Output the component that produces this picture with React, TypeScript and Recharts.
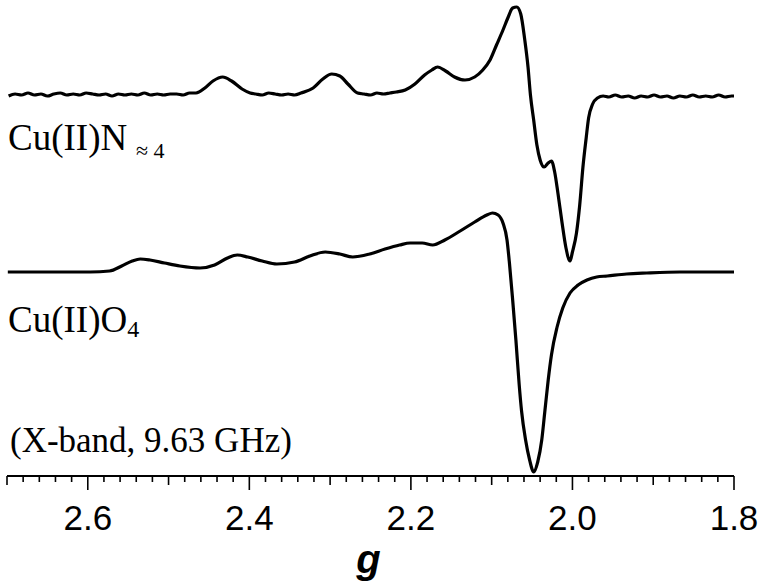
import { LineChart, Line, XAxis, YAxis } from 'recharts';

// g-values and signal heights (arbitrary units, offset so traces stack)
const gTicks = [2.6, 2.4, 2.2, 2.0, 1.8];

const nitrogenG = [
  2.698, 2.69, 2.682, 2.674, 2.666, 2.658, 2.65, 2.642, 2.634, 2.626, 2.618, 2.61, 2.602, 2.594,
  2.586, 2.578, 2.57, 2.562, 2.554, 2.546, 2.538, 2.53, 2.522, 2.514, 2.506, 2.498, 2.49, 2.482,
  2.474, 2.466, 2.455, 2.445, 2.433, 2.422, 2.409, 2.399, 2.392, 2.384, 2.376, 2.368, 2.36, 2.352,
  2.344, 2.336, 2.321, 2.309, 2.298, 2.288, 2.278, 2.266, 2.258, 2.25, 2.242, 2.234, 2.226, 2.218,
  2.207, 2.195, 2.183, 2.174, 2.167, 2.157, 2.146, 2.133, 2.121, 2.111, 2.102, 2.094, 2.086, 2.08,
  2.074, 2.069, 2.064, 2.059, 2.055, 2.052, 2.048, 2.044, 2.04, 2.035, 2.03, 2.026, 2.022, 2.018,
  2.013, 2.008, 2.003, 2.0, 1.995, 1.991, 1.987, 1.983, 1.98, 1.975, 1.969, 1.962, 1.955, 1.947,
  1.939, 1.931, 1.923, 1.915, 1.907, 1.899, 1.891, 1.883, 1.875, 1.867, 1.859, 1.851, 1.843, 1.835,
  1.827, 1.819, 1.811, 1.803, 1.8,
];
const nitrogenSignal = [
  380, 382, 381, 383, 381, 382, 380, 382, 383, 381, 382, 381, 383, 382,
  381, 382, 380, 382, 381, 382, 381, 383, 381, 382, 381, 382, 382, 381,
  383, 383, 388, 395, 399, 395, 387, 383, 382, 381, 383, 382, 381, 382,
  381, 383, 388, 397, 402, 400, 392, 383, 382, 381, 383, 382, 383, 384,
  386, 392, 401, 406, 409, 405, 399, 396, 399, 406, 416, 431, 446, 458,
  468, 469, 462, 436, 409, 381, 356, 331, 316, 309, 313, 315, 304, 283,
  254, 228, 215, 224, 243, 271, 309, 338, 358, 372, 378, 380, 379, 381,
  379, 380, 378, 380, 379, 381, 379, 380, 378, 380, 379, 381, 379, 380,
  379, 381, 379, 380, 380,
];

const oxygenG = [
  2.699, 2.672, 2.634, 2.597, 2.573, 2.558, 2.545, 2.535, 2.523, 2.505, 2.486, 2.461, 2.443, 2.427,
  2.415, 2.402, 2.384, 2.366, 2.344, 2.325, 2.306, 2.288, 2.272, 2.251, 2.232, 2.214, 2.201, 2.186,
  2.173, 2.158, 2.139, 2.121, 2.106, 2.099, 2.092, 2.086, 2.081, 2.078, 2.074, 2.07, 2.066, 2.063,
  2.058, 2.053, 2.048, 2.043, 2.038, 2.034, 2.03, 2.026, 2.019, 2.012, 2.003, 1.993, 1.982, 1.97,
  1.957, 1.933, 1.908, 1.867, 1.83, 1.8,
];
const oxygenSignal = [
  204, 204, 204, 204, 205, 210, 215, 217, 216, 213, 210, 208, 211, 218,
  221, 219, 215, 212, 214, 220, 224, 222, 219, 222, 227, 231, 233, 233,
  231, 236, 245, 254, 261, 263, 261, 253, 236, 213, 176, 136, 92, 65,
  36, 16, 4, 14, 36, 66, 96, 121, 149, 168, 183, 191, 196, 199,
  200, 202, 203, 204, 204, 204,
];

const nitrogenData = nitrogenG.map((g, i) => ({ g, v: nitrogenSignal[i] }));
const oxygenData = oxygenG.map((g, i) => ({ g, v: oxygenSignal[i] }));

// minor ticks every 0.02 between 2.7 and 1.8
const allTicks: number[] = [];
for (let i = 0; i <= 45; i++) allTicks.push(Math.round((2.7 - i * 0.02) * 100) / 100);

function GTick(props: any) {
  const { x, y, payload } = props;
  const k = Math.round(payload.value * 100);
  const major = gTicks.some((t) => Math.round(t * 100) === k);
  const mid = !major && k % 10 === 0;
  const len = major ? 14 : mid ? 9 : 6;
  return (
    <g>
      <line x1={x} y1={y} x2={x} y2={y + len} stroke="#000" strokeWidth={1.6} />
      {major && (
        <text
          x={x}
          y={y + 54}
          textAnchor="middle"
          fontSize={35}
          fontFamily="'Liberation Sans', Arial, sans-serif"
          fill="#000"
        >
          {payload.value.toFixed(1)}
        </text>
      )}
    </g>
  );
}

const serif = "'Liberation Serif', 'Times New Roman', serif";

export default function App() {
  return (
    <div style={{ position: 'absolute', left: 0, top: 0, width: 762, height: 587, background: '#fff' }}>
      <LineChart width={762} height={587} margin={{ top: 0, right: 28, bottom: 0, left: 7 }}>
        <XAxis
          dataKey="g"
          type="number"
          domain={[1.8, 2.7]}
          reversed
          allowDataOverflow
          ticks={allTicks}
          interval={0}
          tickLine={false}
          tickSize={0}
          tickMargin={0}
          height={111}
          axisLine={{ stroke: '#000', strokeWidth: 2 }}
          tick={<GTick />}
          label={{
            content: ({ viewBox }: any) => (
              <text
                x={viewBox.x + viewBox.width / 2 - 2}
                y={viewBox.y + 97}
                textAnchor="middle"
                fontSize={40}
                fontWeight="bold"
                fontStyle="italic"
                fontFamily="'Liberation Sans', Arial, sans-serif"
                fill="#000"
              >
                g
              </text>
            ),
          }}
        />
        <YAxis type="number" domain={[0, 476]} hide allowDataOverflow />
        <Line
          data={nitrogenData}
          dataKey="v"
          type="monotone"
          stroke="#000"
          strokeWidth={3.2}
          strokeLinejoin="round"
          dot={false}
          isAnimationActive={false}
        />
        <Line
          data={oxygenData}
          dataKey="v"
          type="monotone"
          stroke="#000"
          strokeWidth={3.2}
          dot={false}
          isAnimationActive={false}
        />
      </LineChart>
      <svg
        width={762}
        height={587}
        style={{ position: 'absolute', left: 0, top: 0, pointerEvents: 'none' }}
      >
        <text x={8} y={150} fontSize={37} fontFamily={serif} fill="#000">
          Cu(II)N
          <tspan x={136} y={158} fontSize={22}>
            ≈ 4
          </tspan>
        </text>
        <text x={8} y={332} fontSize={37} fontFamily={serif} fill="#000">
          Cu(II)O
          <tspan y={337} fontSize={24}>
            4
          </tspan>
        </text>
        <text x={10} y={452} fontSize={35} fontFamily={serif} fill="#000">
          (X-band, 9.63 GHz)
        </text>
      </svg>
    </div>
  );
}
